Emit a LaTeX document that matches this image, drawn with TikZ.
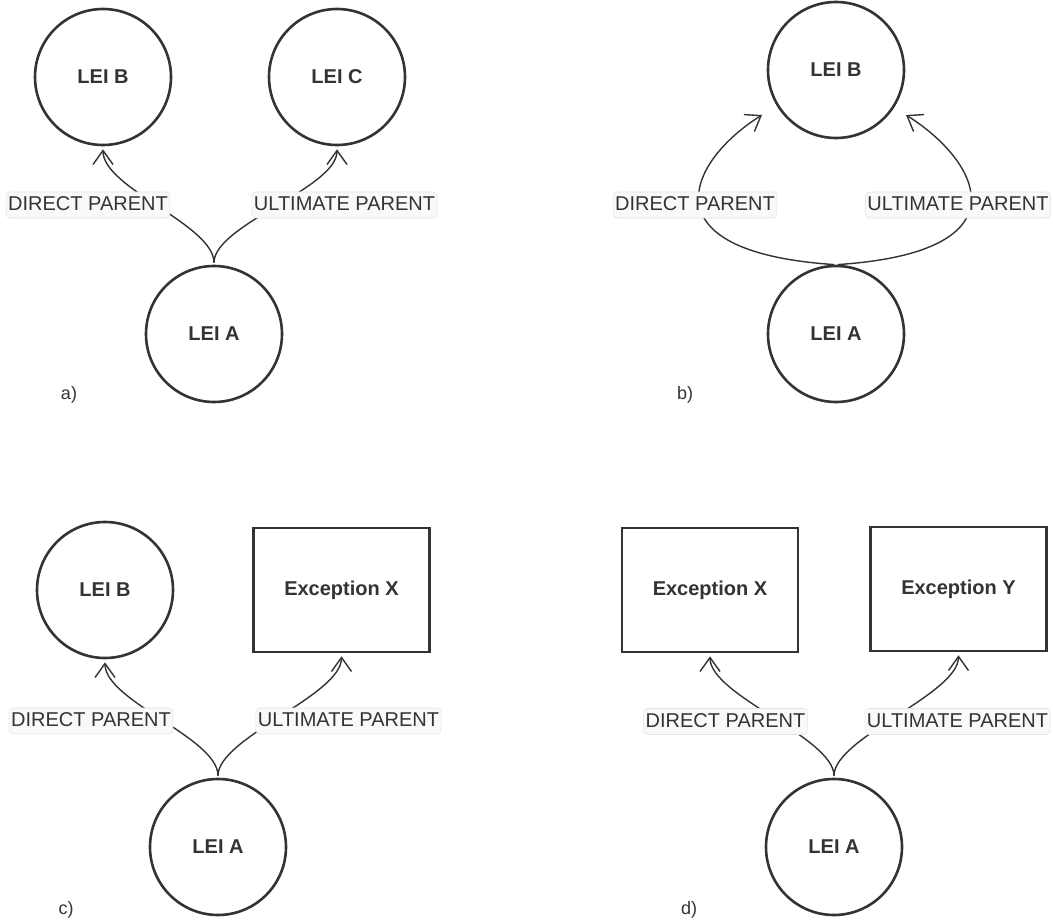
\documentclass[tikz,border=0pt]{standalone}
\usepackage{fontspec}
\setmainfont{Liberation Sans}
\usepackage{tikz}
\usetikzlibrary{shapes.geometric, arrows.meta, calc}
\definecolor{ink}{HTML}{333333}
\tikzstyle{leicircle} = [circle, minimum size=136pt, draw=ink, line width=2.6pt, text=ink, font=\fontsize{20}{24}\selectfont\bfseries]
\tikzstyle{excbox} = [rectangle, minimum width=176pt, minimum height=124pt, draw=ink, line width=2.6pt, text=ink, font=\fontsize{20}{24}\selectfont\bfseries]
\tikzstyle{rellabel} = [rectangle, rounded corners=4pt, fill=gray!5, draw=gray!22, line width=0.6pt, text=ink, inner xsep=2pt, inner ysep=3.5pt, text height=15pt, text depth=4pt, font=\fontsize{20}{24}\selectfont]
\tikzstyle{panel} = [text=ink, font=\fontsize{18}{22}\selectfont]
\tikzstyle{arrow} = [draw=ink, line width=1.4pt, -{Straight Barb[length=14pt,width=20pt]}, shorten <=2pt, shorten >=3pt]

\begin{document}
\begin{tikzpicture}[x=1pt, y=-1pt, node distance=257pt]
      \useasboundingbox (0,0) rectangle (1053,923);

      % a)
      \node (leiAa) [leicircle] at (214,334) {LEI A};
      \node (leiBa) [leicircle, above of=leiAa, xshift=-111] {LEI B};
      \node (leiCa) [leicircle, above of=leiAa, xshift=123] {LEI C};
      \draw [arrow] (leiAa.north) .. controls +(0,-40) and +(0,42) .. (leiBa.south);
      \draw [arrow] (leiAa.north) .. controls +(0,-40) and +(0,42) .. (leiCa.south);
      \node (dpa) [rellabel] at (88,205) {DIRECT PARENT};
      \node (upa) [rellabel] at (344.5,205) {ULTIMATE PARENT};
      \node (taga) [panel] at (69,395) {a)};

      % b)
      \node (leiAb) [leicircle] at (836,334) {LEI A};
      \node (leiBb) [leicircle, above of=leiAb, yshift=7] {LEI B};
      \draw [arrow, shorten >=0pt] (leiAb.north) .. controls +(-194,-13) and +(-72,45) .. ($(leiBb.center)+(-74,45)$);
      \draw [arrow, shorten >=0pt] (leiAb.north) .. controls +(194,-13) and +(72,45) .. ($(leiBb.center)+(70,45)$);
      \node (dpb) [rellabel] at (695,205) {DIRECT PARENT};
      \node (upb) [rellabel] at (958,205) {ULTIMATE PARENT};
      \node (tagb) [panel] at (685,395) {b)};

      % c)
      \node (leiAc) [leicircle] at (218,847) {LEI A};
      \node (leiBc) [leicircle, above of=leiAc, xshift=-113] {LEI B};
      \node (excXc) [excbox, above of=leiAc, xshift=123.5] {Exception X};
      \draw [arrow] (leiAc.north) .. controls +(0,-40) and +(0,42) .. (leiBc.south);
      \draw [arrow] (leiAc.north) .. controls +(0,-40) and +(0,42) .. (excXc.south);
      \node (dpc) [rellabel] at (91,721) {DIRECT PARENT};
      \node (upc) [rellabel] at (348.5,721) {ULTIMATE PARENT};
      \node (tagc) [panel] at (66,910) {c)};

      % d)
      \node (leiAd) [leicircle] at (834,847) {LEI A};
      \node (excXd) [excbox, above of=leiAd, xshift=-124] {Exception X};
      \node (excYd) [excbox, above of=leiAd, xshift=124.5, yshift=1] {Exception Y};
      \draw [arrow] (leiAd.north) .. controls +(0,-40) and +(0,42) .. (excXd.south);
      \draw [arrow] (leiAd.north) .. controls +(0,-40) and +(0,42) .. (excYd.south);
      \node (dpd) [rellabel] at (725.5,721.5) {DIRECT PARENT};
      \node (upd) [rellabel] at (957.5,721.5) {ULTIMATE PARENT};
      \node (tagd) [panel] at (689,910) {d)};
    \end{tikzpicture}
\end{document}
